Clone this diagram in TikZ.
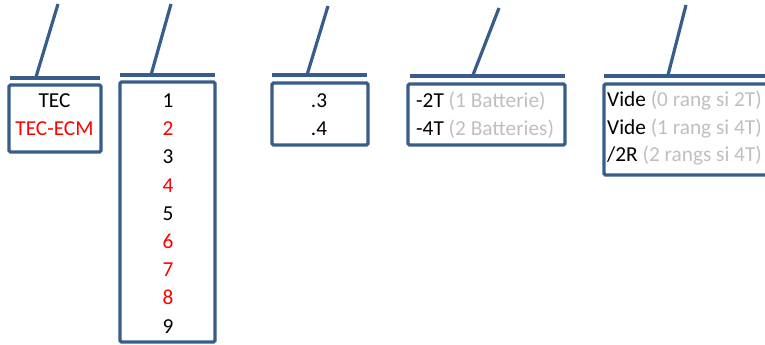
\documentclass[tikz,border=0pt]{standalone}
\usepackage{fontspec}
\setmainfont{Carlito}
\usepackage{tikz}
\usetikzlibrary{calc}
\definecolor{fieldblue}{HTML}{385D8A}
\definecolor{fieldred}{HTML}{FF0000}
\definecolor{fieldgrey}{HTML}{BFBFBF}
\tikzset{
   field box/.style={rectangle,draw=fieldblue,line width=3.2pt,rounded corners=1.5pt,inner sep=0pt},
   field bar/.style={draw=fieldblue,line width=3.2pt},
   field text/.style={font=\fontsize{21.3}{24}\selectfont,inner sep=0pt,anchor=base},
   red text/.style={field text,text=fieldred},
   left text/.style={field text,anchor=base west}
}

\begin{document}
\begin{tikzpicture}[x=1pt,y=-1pt]
\clip (0,0) rectangle (765,345);
% boxes
\node[field box,minimum width=92,minimum height=67]  (typebox)  at (55,118.5)  {};
\node[field box,minimum width=95,minimum height=260] (sizebox)  at (167.5,212) {};
\node[field box,minimum width=96,minimum height=62]  (varbox)   at (320,114)   {};
\node[field box,minimum width=157,minimum height=61] (battbox)  at (486.5,114.5) {};
\node[field box,minimum width=176,minimum height=91] (rangbox)  at (692,129.5) {};
%
\coordinate (typebarL) at (10,78);   \coordinate (typebarR) at (100,78);
\coordinate (sizebarL) at (120,75);  \coordinate (sizebarR) at (215,75);
\coordinate (varbarL)  at (272,75);  \coordinate (varbarR)  at (367,75);
\coordinate (battbarL) at (410,76);  \coordinate (battbarR) at (565,76);
\coordinate (rangbarL) at (604,76);  \coordinate (rangbarR) at (780,76);
%
\coordinate (typefoot) at (36,77);   \coordinate (typetop) at (58,4);
\coordinate (sizefoot) at (151,75);  \coordinate (sizetop) at (171,4);
\coordinate (varfoot)  at (307,75);  \coordinate (vartop)  at (328,6);
\coordinate (battfoot) at (473,75);  \coordinate (batttop) at (499,8);
\coordinate (rangfoot) at (668,75);  \coordinate (rangtop) at (686,5);
%
\path[field bar]
  (typebarL) edge (typebarR)
  (sizebarL) edge (sizebarR)
  (varbarL)  edge (varbarR)
  (battbarL) edge (battbarR)
  (rangbarL) edge (rangbarR)
  (typefoot) edge (typetop)
  (sizefoot) edge (sizetop)
  (varfoot)  edge (vartop)
  (battfoot) edge (batttop)
  (rangfoot) edge (rangtop)
  ;
% texts
\node[field text] (tec)    at (54.5,107) {TEC};
\node[red text]   (tececm) at (54.5,135) {TEC-ECM};
%
\node[field text] (s1) at (168,107)   {1};
\node[red text]   (s2) at (168,135)   {2};
\node[field text] (s3) at (168,163.5) {3};
\node[red text]   (s4) at (168,192)   {4};
\node[field text] (s5) at (168,220)   {5};
\node[red text]   (s6) at (168,248.5) {6};
\node[red text]   (s7) at (168,276.5) {7};
\node[red text]   (s8) at (168,304.5) {8};
\node[field text] (s9) at (168,333)   {9};
%
\node[field text] (v3) at (319,107) {.3};
\node[field text] (v4) at (319,135) {.4};
%
\node[left text] (b2) at (416,107) {-2T {\color{fieldgrey}(1 Batterie)}};
\node[left text] (b4) at (416,135) {-4T {\color{fieldgrey}(2 Batteries)}};
%
\node[left text] (r0) at (607,106) {Vide {\color{fieldgrey}(0 rang si 2T)}};
\node[left text] (r1) at (607,134) {Vide {\color{fieldgrey}(1 rang si 4T)}};
\node[left text] (r2) at (607,161) {/2R {\color{fieldgrey}(2 rangs si 4T)}};
\end{tikzpicture}
\end{document}
